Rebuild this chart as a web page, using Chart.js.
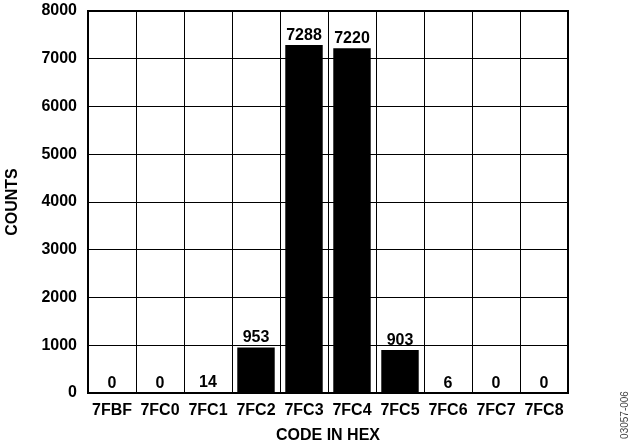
<!DOCTYPE html>
<html>
<head>
<meta charset="utf-8">
<script src="https://cdn.jsdelivr.net/npm/chart.js@4/dist/chart.umd.min.js"></script>
<style>
  html, body { margin: 0; padding: 0; background: #fff; }
  #wrap { width: 630px; height: 447px; position: relative; }
</style>
</head>
<body>
<div id="wrap"><canvas id="hist"></canvas></div>
<script>
// Histogram of output codes
const codes = ['7FBF', '7FC0', '7FC1', '7FC2', '7FC3', '7FC4', '7FC5', '7FC6', '7FC7', '7FC8'];
const counts = [0, 0, 14, 953, 7288, 7220, 903, 6, 0, 0];
const yTicks = [0, 1000, 2000, 3000, 4000, 5000, 6000, 7000, 8000];
const xTitle = 'CODE IN HEX';
const yTitle = 'COUNTS';
const figureId = '03057-006';

const FONT = '"Liberation Sans", Arial, Helvetica, sans-serif';
const TEXT_SIZE = 16;

// Count printed above each bar
const valueLabels = {
  id: 'valueLabels',
  afterDatasetsDraw(chart) {
    const ctx = chart.ctx;
    const meta = chart.getDatasetMeta(0);
    ctx.save();
    ctx.font = 'bold ' + TEXT_SIZE + 'px ' + FONT;
    ctx.fillStyle = '#000';
    ctx.textAlign = 'center';
    ctx.textBaseline = 'alphabetic';
    meta.data.forEach((bar, i) => {
      ctx.fillText(String(counts[i]), bar.x, bar.y - 5);
    });
    ctx.restore();
  }
};

// Heavier frame round the plot area, plus the figure number at the right edge
const frame = {
  id: 'frame',
  afterDraw(chart) {
    const { ctx, chartArea: a } = chart;
    ctx.save();
    ctx.strokeStyle = '#000';
    ctx.lineWidth = 2;
    ctx.strokeRect(a.left, a.top, a.right - a.left, a.bottom - a.top);
    ctx.translate(625, 415);
    ctx.rotate(-Math.PI / 2);
    ctx.font = '10px ' + FONT;
    ctx.fillStyle = '#444';
    ctx.textAlign = 'center';
    ctx.textBaseline = 'middle';
    ctx.fillText(figureId, 0, 0);
    ctx.restore();
  }
};

new Chart(document.getElementById('hist'), {
  type: 'bar',
  data: {
    labels: codes,
    datasets: [{
      data: counts,
      backgroundColor: '#000',
      borderWidth: 0,
      barPercentage: 0.78,
      categoryPercentage: 1.0
    }]
  },
  options: {
    responsive: true,
    maintainAspectRatio: false,
    animation: false,
    devicePixelRatio: 1,
    layout: { padding: { left: 0, right: 62, top: 11, bottom: 0 } },
    plugins: {
      legend: { display: false },
      tooltip: { enabled: false }
    },
    scales: {
      x: {
        offset: true,
        grid: { display: true, offset: true, color: '#000', lineWidth: 1, drawTicks: false },
        border: { display: true, color: '#000', width: 2 },
        ticks: {
          color: '#000',
          font: { family: FONT, size: TEXT_SIZE, weight: 'bold' },
          padding: 8,
          maxRotation: 0,
          autoSkip: false
        },
        title: {
          display: true,
          text: xTitle,
          color: '#000',
          font: { family: FONT, size: TEXT_SIZE, weight: 'bold' },
          padding: { top: 0, bottom: 2 }
        },
        afterFit(s) { s.height = 54; s.paddingLeft = 0; s.paddingRight = 0; }
      },
      y: {
        min: 0,
        max: 8000,
        afterBuildTicks(s) { s.ticks = yTicks.map(v => ({ value: v })); },
        grid: { display: true, color: '#000', lineWidth: 1, drawTicks: false },
        border: { display: true, color: '#000', width: 2 },
        ticks: {
          color: '#000',
          font: { family: FONT, size: TEXT_SIZE, weight: 'bold' },
          padding: 11,
          callback: v => String(v)
        },
        title: {
          display: true,
          text: yTitle,
          color: '#000',
          font: { family: FONT, size: TEXT_SIZE, weight: 'bold' },
          padding: { top: 3, bottom: 0 }
        },
        afterFit(s) { s.width = 88; s.paddingTop = 0; s.paddingBottom = 0; }
      }
    }
  },
  plugins: [valueLabels, frame]
});
</script>
</body>
</html>
